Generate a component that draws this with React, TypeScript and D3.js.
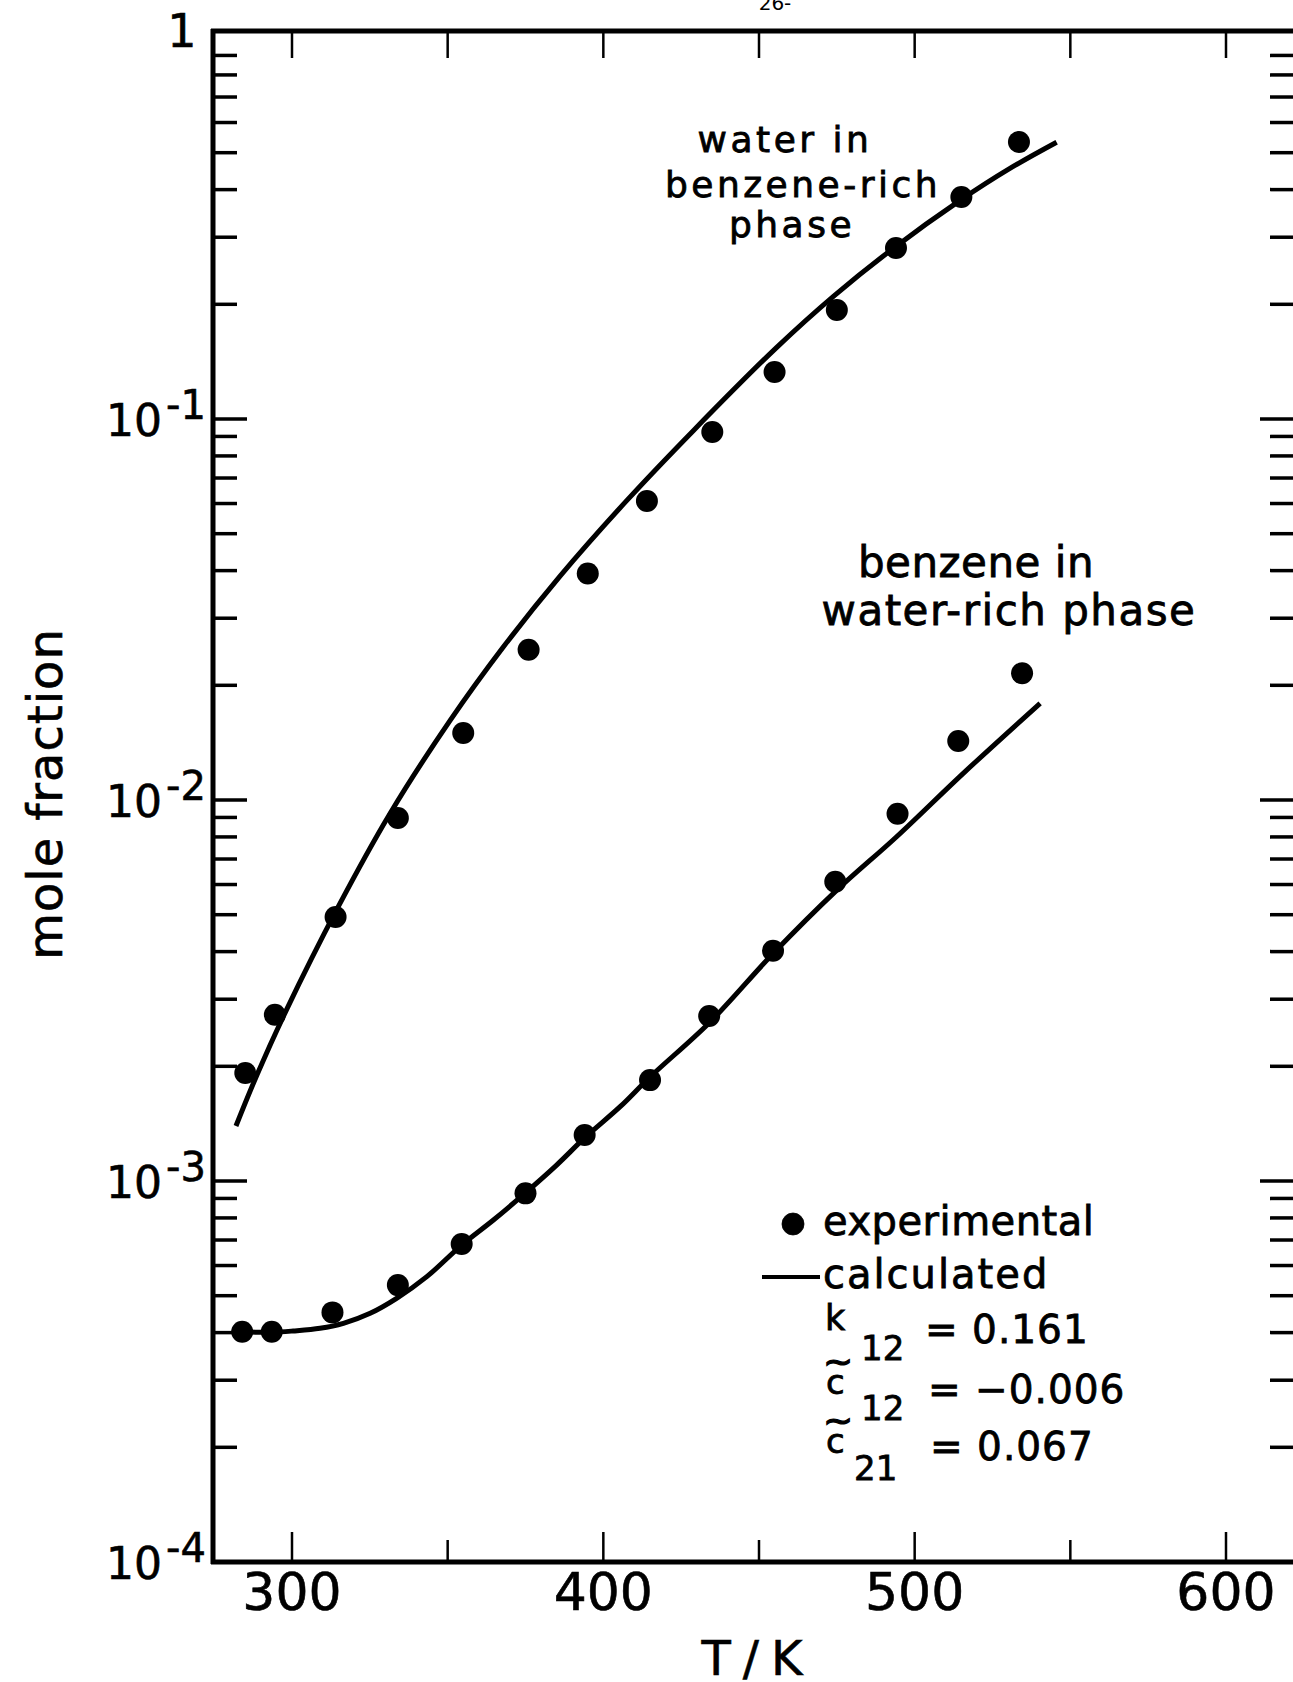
import React from 'react'
import * as d3 from 'd3'

// experimental points (T in K, mole fraction)
const waterT = [285, 294.5, 314, 334, 355, 376, 395, 414, 435, 455, 475, 494, 515, 533.5]
const waterX = [1.92e-3, 2.73e-3, 4.93e-3, 8.97e-3, 0.015, 0.0248, 0.0393, 0.0609, 0.0924, 0.1328, 0.1932, 0.281, 0.3825, 0.5334]

const benzeneT = [284, 293.5, 313, 334, 354.5, 375, 394, 415, 434, 454.5, 474.5, 494.5, 514, 534.5]
const benzeneX = [4.02e-4, 4.02e-4, 4.52e-4, 5.33e-4, 6.83e-4, 9.28e-4, 1.32e-3, 1.84e-3, 2.71e-3, 4.02e-3, 6.1e-3, 9.2e-3, 0.01428, 0.0215]

// calculated curves
const waterCalcT = [282, 288.7, 298.3, 314.4, 331.5, 350.8, 367.8, 386.1, 407.5, 428.9, 455.7, 473.9, 493.1, 514.6, 530.6, 545.6]
const waterCalcX = [1.394e-3, 1.894e-3, 2.822e-3, 5.164e-3, 9.22e-3, 0.01618, 0.02517, 0.0387, 0.06106, 0.0932, 0.1542, 0.2099, 0.2804, 0.3748, 0.4546, 0.5326]

const benzeneCalcT = [283.8, 293.5, 300.4, 309, 316.5, 325.1, 333.6, 343.3, 354.5, 364.7, 374.8, 385, 394.4, 405.4, 415, 434.3, 454.6, 475, 494.2, 515.6, 540.3]
const benzeneCalcX = [4.02e-4, 4.008e-4, 4.04e-4, 4.105e-4, 4.23e-4, 4.495e-4, 4.92e-4, 5.61e-4, 6.79e-4, 7.9e-4, 9.28e-4, 1.101e-3, 1.307e-3, 1.567e-3, 1.875e-3, 2.615e-3, 3.96e-3, 5.8e-3, 8.01e-3, 1.175e-2, 1.794e-2]

const xTicks = [300, 350, 400, 450, 500, 550, 600]
const xLabels = [300, 400, 500, 600]
const decades = [1e-4, 1e-3, 1e-2, 1e-1]
const decadeExp = ['-4', '-3', '-2', '-1']

const W = 1293
const H = 1682
const left = 213
const top = 31
const bottom = 1562
const right = 1300
const font = 'DejaVu Sans, sans-serif'

const App = () => {
  const x = d3.scaleLinear().domain([300, 600]).range([292, 1226])
  const y = d3.scaleLog().domain([1e-4, 1]).range([bottom, 38])

  const line = d3
    .line<[number, number]>()
    .x(d => x(d[0]))
    .y(d => y(d[1]))
    .curve(d3.curveCatmullRom.alpha(0.5))

  const waterCalc = waterCalcT.map((t, i) => [t, waterCalcX[i]] as [number, number])
  const benzeneCalc = benzeneCalcT.map((t, i) => [t, benzeneCalcX[i]] as [number, number])

  const yTicks = y.ticks().filter(v => v < 1)
  const isDecade = (v: number) => Math.abs(Math.log10(v) - Math.round(Math.log10(v))) < 1e-6

  return (
    <svg
      width={W}
      height={H}
      style={{ position: 'absolute', left: 0, top: 0, background: '#fff' }}
      fontFamily={font}
    >
      <rect width={W} height={H} fill="#fff" />
      <text x={775} y={10} fontSize={20} textAnchor="middle">26-</text>

      {/* frame */}
      <line x1={left} x2={left} y1={top - 2} y2={bottom + 2} stroke="#000" strokeWidth={5} />
      <line x1={left - 2} x2={W} y1={top} y2={top} stroke="#000" strokeWidth={5} />
      <line x1={left - 2} x2={W} y1={bottom} y2={bottom} stroke="#000" strokeWidth={5} />

      {/* y ticks left and right */}
      {yTicks.map((v, i) => {
        const len = isDecade(v) ? 34 : 24
        return (
          <g key={'yt' + i}>
            <line x1={left} x2={left + len} y1={y(v)} y2={y(v)} stroke="#000" strokeWidth={3.5} />
            <line x1={right - len - 6} x2={right} y1={y(v)} y2={y(v)} stroke="#000" strokeWidth={3.5} />
          </g>
        )
      })}

      {/* x ticks top and bottom */}
      {xTicks.map(t => (
        <g key={'xt' + t}>
          <line x1={x(t)} x2={x(t)} y1={top} y2={top + 27} stroke="#000" strokeWidth={2.5} />
          <line
            x1={x(t)}
            x2={x(t)}
            y1={bottom}
            y2={bottom - (t % 100 === 0 ? 30 : 22)}
            stroke="#000"
            strokeWidth={2.5}
          />
        </g>
      ))}

      <g stroke="#000" strokeWidth={0.6}>
        {xLabels.map(t => (
          <text key={'xl' + t} x={x(t)} y={1610} fontSize={52} textAnchor="middle">
            {t}
          </text>
        ))}

        <text x={182} y={47} fontSize={46} textAnchor="middle">1</text>
        {decades.map((v, i) => (
          <text key={'yl' + i} x={206} y={y(v) + 17} fontSize={44} textAnchor="end">
            10
            <tspan dx={4} dy={-17} fontSize={40}>{decadeExp[i]}</tspan>
          </text>
        ))}

        <text
          transform="translate(62,794) rotate(-90)"
          fontSize={48}
          letterSpacing={1}
          textAnchor="middle"
        >
          mole fraction
        </text>
        <text x={758} y={1675} fontSize={48} letterSpacing={12} textAnchor="middle">
          T/K
        </text>
      </g>

      {/* calculated curves */}
      <path d={line(waterCalc) || ''} fill="none" stroke="#000" strokeWidth={5} />
      <path d={line(benzeneCalc) || ''} fill="none" stroke="#000" strokeWidth={5} />

      {/* experimental points */}
      {waterT.map((t, i) => (
        <circle key={'w' + i} cx={x(t)} cy={y(waterX[i])} r={11} fill="#000" />
      ))}
      {benzeneT.map((t, i) => (
        <circle key={'b' + i} cx={x(t)} cy={y(benzeneX[i])} r={11} fill="#000" />
      ))}

      {/* annotations */}
      <g fontSize={36} letterSpacing={3.5} textAnchor="middle" stroke="#000" strokeWidth={0.8}>
        <text x={785} y={152}>water in</text>
        <text x={803} y={197}>benzene-rich</text>
        <text x={792} y={237}>phase</text>
      </g>
      <g fontSize={42} textAnchor="middle" stroke="#000" strokeWidth={0.8}>
        <text x={976} y={577} letterSpacing={0.5}>benzene in</text>
        <text x={1009} y={625} letterSpacing={1.5}>water-rich phase</text>
      </g>

      {/* legend */}
      <g fontSize={40} stroke="#000" strokeWidth={0.8}>
        <circle cx={793} cy={1224} r={11} fill="#000" />
        <text x={823} y={1235} letterSpacing={0.5}>experimental</text>
        <line x1={762} x2={820} y1={1277} y2={1277} stroke="#000" strokeWidth={4} />
        <text x={823} y={1288} letterSpacing={2}>calculated</text>

        <text x={825} y={1330} fontSize={35}>k</text>
        <text x={861} y={1360} fontSize={34}>12</text>
        <text x={925} y={1343} fontSize={39} letterSpacing={1}>= 0.161</text>

        <text x={823} y={1374} fontSize={36} strokeWidth={1.2}>~</text>
        <text x={826} y={1394} fontSize={34}>c</text>
        <text x={861} y={1420} fontSize={34}>12</text>
        <text x={928} y={1403} fontSize={39} letterSpacing={1}>= −0.006</text>

        <text x={823} y={1433} fontSize={36} strokeWidth={1.2}>~</text>
        <text x={826} y={1453} fontSize={34}>c</text>
        <text x={854} y={1480} fontSize={34}>21</text>
        <text x={930} y={1460} fontSize={39} letterSpacing={1}>= 0.067</text>
      </g>
    </svg>
  )
}

export default App
